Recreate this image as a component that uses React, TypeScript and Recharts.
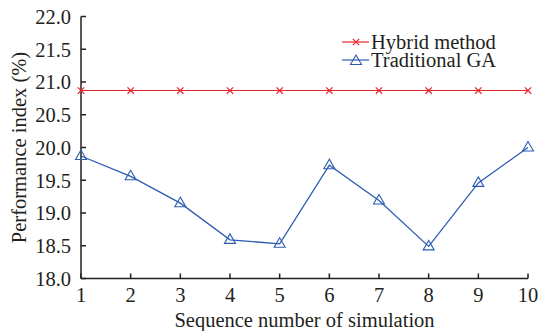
import { LineChart, Line, XAxis, YAxis } from 'recharts'

const runs = [1, 2, 3, 4, 5, 6, 7, 8, 9, 10]
const hybridMethod = [20.87, 20.87, 20.87, 20.87, 20.87, 20.87, 20.87, 20.87, 20.87, 20.87]
const traditionalGA = [19.87, 19.56, 19.15, 18.59, 18.53, 19.73, 19.19, 18.49, 19.46, 20.0]
const yTicks = [18.0, 18.5, 19.0, 19.5, 20.0, 20.5, 21.0, 21.5, 22.0]

const RED = '#e8262c'
const BLUE = '#2c5cb0'
const INK = '#231f20'
const FONT = '"Liberation Serif", "Times New Roman", serif'

const data = runs.map((run, i) => ({
  run,
  hybrid: hybridMethod[i],
  ga: traditionalGA[i]
}))

const XMark = ({ cx, cy }: { cx?: number; cy?: number }) => {
  if (cx == null || cy == null) return null
  const s = 3.2
  return (
    <g stroke={RED} strokeWidth={1.2}>
      <line x1={cx - s} y1={cy - s} x2={cx + s} y2={cy + s} />
      <line x1={cx - s} y1={cy + s} x2={cx + s} y2={cy - s} />
    </g>
  )
}

const Triangle = ({ cx, cy }: { cx?: number; cy?: number }) => {
  if (cx == null || cy == null) return null
  const w = 5.5
  return (
    <polygon
      points={`${cx},${cy - 6} ${cx - w},${cy + 3.5} ${cx + w},${cy + 3.5}`}
      fill="none"
      stroke={BLUE}
      strokeWidth={1.1}
    />
  )
}

const legendItems = [
  { label: 'Hybrid method', color: RED, marker: 'x' },
  { label: 'Traditional GA', color: BLUE, marker: 'tri' }
]

// legend drawn as an overlay so it doesn't eat into the plot area
const LegendBox = () => (
  <div style={{ position: 'absolute', left: 342, top: 32.5, fontFamily: FONT, fontSize: 20.5, color: INK }}>
    {legendItems.map(item => (
      <div key={item.label} style={{ display: 'flex', alignItems: 'center', height: 18 }}>
        <svg width={28} height={18} style={{ marginRight: 1 }}>
          <line x1={0} y1={9} x2={27} y2={9} stroke={item.color} strokeWidth={1.2} />
          {item.marker === 'x' ? <XMark cx={14} cy={9} /> : <Triangle cx={14} cy={10} />}
        </svg>
        <span style={{ lineHeight: '18px', whiteSpace: 'nowrap' }}>{item.label}</span>
      </div>
    ))}
  </div>
)

const YTitle = (props: any) => {
  const vb = props.viewBox || { y: 16, height: 262 }
  const x = 19
  const y = vb.y + vb.height / 2
  return (
    <text
      x={x}
      y={y}
      transform={`rotate(-90 ${x} ${y})`}
      textAnchor="middle"
      dominantBaseline="central"
      style={{ fontFamily: FONT, fontSize: 20.5, fill: INK }}
    >
      Performance index (%)
    </text>
  )
}

const XTitle = (props: any) => {
  const vb = props.viewBox || { x: 81, width: 447 }
  return (
    <text
      x={vb.x + vb.width / 2}
      y={326.5}
      textAnchor="middle"
      style={{ fontFamily: FONT, fontSize: 20.5, fill: INK }}
    >
      Sequence number of simulation
    </text>
  )
}

const tickStyle = { fill: INK, fontSize: 20.5, fontFamily: FONT }

export default function App() {
  return (
    <div style={{ position: 'absolute', left: 0, top: 0, width: 540, height: 331, background: '#fff', fontFamily: FONT }}>
      <LineChart
        width={540}
        height={331}
        data={data}
        margin={{ top: 16.5, right: 12, bottom: 0, left: 0 }}
        style={{ fontFamily: FONT }}
      >
        <XAxis
          dataKey="run"
          type="number"
          domain={[1, 10]}
          ticks={runs}
          interval={0}
          stroke={INK}
          strokeWidth={1.5}
          tickSize={-5}
          tickMargin={14}
          tick={tickStyle}
          height={52.5}
          label={<XTitle />}
        />
        <XAxis
          xAxisId="top"
          orientation="top"
          dataKey="run"
          type="number"
          domain={[1, 10]}
          ticks={runs}
          interval={0}
          stroke={INK}
          strokeWidth={1}
          tickSize={-5}
          tickFormatter={() => ''}
          height={0}
        />
        <YAxis
          type="number"
          domain={[18, 22]}
          ticks={yTicks}
          interval={0}
          width={81}
          stroke={INK}
          strokeWidth={1.5}
          tickSize={-5}
          tickMargin={15}
          tick={tickStyle}
          tickFormatter={(v: number) => v.toFixed(1)}
          label={<YTitle />}
        />
        <YAxis
          yAxisId="right"
          orientation="right"
          type="number"
          domain={[18, 22]}
          ticks={yTicks}
          interval={0}
          width={0}
          stroke={INK}
          strokeWidth={1}
          tickSize={-5}
          tickFormatter={() => ''}
        />
        <Line
          dataKey="hybrid"
          name="Hybrid method"
          stroke={RED}
          strokeWidth={1.2}
          dot={(p: any) => <XMark key={`h${p.index}`} cx={p.cx} cy={p.cy} />}
          activeDot={false}
          isAnimationActive={false}
        />
        <Line
          dataKey="ga"
          name="Traditional GA"
          stroke={BLUE}
          strokeWidth={1.3}
          dot={(p: any) => <Triangle key={`g${p.index}`} cx={p.cx} cy={p.cy} />}
          activeDot={false}
          isAnimationActive={false}
        />
      </LineChart>
      <LegendBox />
    </div>
  )
}
